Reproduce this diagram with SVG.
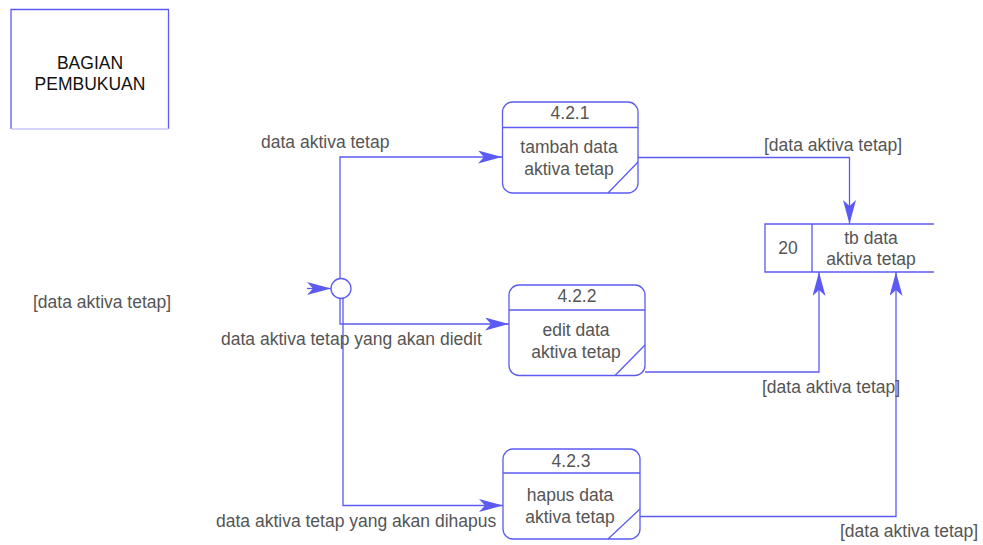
<svg xmlns="http://www.w3.org/2000/svg" width="983" height="545" viewBox="0 0 983 545">
<style>
.ln{fill:none;stroke:#5b5bf3;stroke-width:1.3}
.bx{fill:#fff;stroke:#5b5bf3;stroke-width:1.3}
.t{font-family:"Liberation Sans",Arial,sans-serif;font-size:17.5px;fill:#555}
.c{text-anchor:middle}
.k{fill:#111}
</style>
<defs>
<marker id="ah" markerUnits="userSpaceOnUse" markerWidth="24" markerHeight="13" viewBox="0 0 24 13" refX="24" refY="6.5" orient="auto">
<path d="M0,0 L24,6.5 L0,13 L6,6.5 z" fill="#5b5bf3"/>
</marker>
</defs>
<rect width="983" height="545" fill="#fff"/>

<g id="bagian-pembukuan">
<path class="ln" d="M11,129 V9.5 H168.5 V129"/>
<path d="M11,129 H168.5" fill="none" stroke="#c8c8f6" stroke-width="1.3"/>
<text class="t c k" x="90" y="69">BAGIAN</text>
<text class="t c k" x="90" y="90">PEMBUKUAN</text>
</g>

<g id="p421">
<rect class="bx" x="502.5" y="102" width="135.5" height="91" rx="10"/>
<path class="ln" d="M502.5,127.5 H638 M608,193 L638,162"/>
<text class="t c" x="570" y="119">4.2.1</text>
<text class="t c" x="569" y="153">tambah data</text>
<text class="t c" x="569" y="175">aktiva tetap</text>
</g>

<g id="p422">
<rect class="bx" x="509" y="285" width="136" height="90.5" rx="10"/>
<path class="ln" d="M509,310 H645 M615,375.5 L645,345"/>
<text class="t c" x="577" y="302">4.2.2</text>
<text class="t c" x="576" y="336">edit data</text>
<text class="t c" x="576" y="358">aktiva tetap</text>
</g>

<g id="p423">
<rect class="bx" x="503" y="449" width="137" height="90" rx="10"/>
<path class="ln" d="M503,473 H640 M608,539 L640,509"/>
<text class="t c" x="571" y="467">4.2.3</text>
<text class="t c" x="570" y="501">hapus data</text>
<text class="t c" x="570" y="523">aktiva tetap</text>
</g>

<g id="store20">
<path class="ln" d="M934,224 H765 V272 H934 M812,224 V272"/>
<text class="t c" x="788" y="254">20</text>
<text class="t c" x="871" y="244">tb data</text>
<text class="t c" x="871" y="265">aktiva tetap</text>
</g>

<g id="junction">
<circle class="bx" cx="341" cy="288.5" r="10"/>
</g>

<g id="connectors">
<path class="ln" d="M307,288.5 H331" marker-end="url(#ah)"/>
<path class="ln" d="M340,278.5 V157 H502" marker-end="url(#ah)"/>
<path class="ln" d="M340,298.5 V324 H509" marker-end="url(#ah)"/>
<path class="ln" d="M343,298 V505.5 H503" marker-end="url(#ah)"/>
<path class="ln" d="M638,157.5 H849.5 V224" marker-end="url(#ah)"/>
<path class="ln" d="M645,372 H819 V272" marker-end="url(#ah)"/>
<path class="ln" d="M640,516.5 H896 V272" marker-end="url(#ah)"/>
</g>

<g id="labels">
<text class="t" x="261" y="148">data aktiva tetap</text>
<text class="t" x="33" y="308">[data aktiva tetap]</text>
<text class="t" x="221" y="345">data aktiva tetap yang akan diedit</text>
<text class="t" x="216" y="527">data aktiva tetap yang akan dihapus</text>
<text class="t" x="764" y="151">[data aktiva tetap]</text>
<text class="t" x="762" y="393">[data aktiva tetap]</text>
<text class="t" x="840" y="537">[data aktiva tetap]</text>
</g>
</svg>
